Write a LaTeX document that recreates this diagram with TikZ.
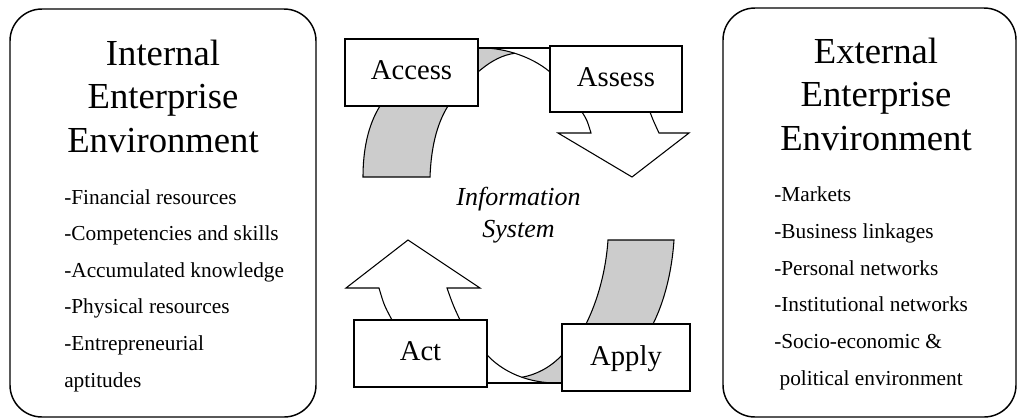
\documentclass[tikz,border=0pt]{standalone}
\usepackage{fontspec}
\setmainfont{Liberation Serif}
\usepackage{tikz}
\definecolor{bandgray}{HTML}{CCCCCC}
\tikzstyle{envbox}=[draw, line width=1.1pt, rounded corners=24pt, fill=white]
\tikzstyle{stepbox}=[draw, line width=1pt, fill=white, text depth=0.35em, font=\fontsize{21.5}{26}\selectfont]
\tikzstyle{heading}=[align=center, anchor=base, inner sep=0pt, font=\fontsize{27.5}{32.6}\selectfont]
\tikzstyle{item}=[anchor=base west, inner sep=0pt, font=\fontsize{16}{20}\selectfont]
\tikzstyle{infotext}=[align=center, anchor=base, inner sep=0pt, font=\fontsize{19.5}{23.8}\selectfont\itshape]
\tikzstyle{band}=[draw, line width=0.8pt, fill=bandgray]
\tikzstyle{blockarrow}=[draw, line width=0.8pt, fill=white]

\begin{document}
\begin{tikzpicture}[x=0.75pt, y=-0.75pt]
  \useasboundingbox (0,0) rectangle (1018,419);
  \begin{scope}
    \node (internal) at (163,213)[envbox, minimum width=229.5pt, minimum height=306pt] {};
    \node (external) at (869.5,212.5)[envbox, minimum width=219.75pt, minimum height=306.75pt] {};
  \end{scope}
  \begin{scope}[line width=0.8pt]
    % tail of the access arrow
    \draw[band] (380,106) .. controls (368,125) and (363,150) .. (363,177)
      -- (430,177) .. controls (431,150) and (436,125) .. (448,106);
    \fill[bandgray] (478,48) .. controls (489,47.5) and (502,49.25) .. (514.75,53.25)
      .. controls (503,55) and (492,60) .. (478,72) -- cycle;
    \draw (478,48) -- (550,48);
    \draw (478,48) .. controls (500,47) and (530,55) .. (550,72);
    \draw (478,72) .. controls (492,60) and (503,55) .. (514.75,53.25);
    \draw[blockarrow] (582,112) .. controls (587,120) .. (591,133) -- (558,133)
      -- (632,177) -- (689,133) -- (659,133) .. controls (653,120) .. (650,112);
    % tail of the apply arrow
    \draw[band] (586,324) .. controls (598,300) and (606,270) .. (608,240)
      -- (674,240) .. controls (672,270) and (665,300) .. (653,324);
    \fill[bandgray] (562,383) .. controls (548.5,383.5) and (534.75,381.75) .. (521.9,377.25)
      .. controls (535,375) and (550,368) .. (562,355) -- cycle;
    \draw (487,383) -- (562,383);
    \draw (562,383) .. controls (535,384) and (507,376) .. (487,355);
    \draw (562,355) .. controls (550,368) and (535,375) .. (521.9,377.25);
    \draw[blockarrow] (392,320) .. controls (384,305) .. (379,288) -- (346,288)
      -- (408,240) -- (480,288) -- (447,288) .. controls (453,305) .. (460,320);
  \end{scope}
  \begin{scope}
    \node (access) at (411.5,72.5)[stepbox, minimum width=99.75pt, minimum height=50.25pt] {Access};
    \node (assess) at (616,79)[stepbox, minimum width=99pt, minimum height=49.5pt] {Assess};
    \node (act) at (420.5,353.5)[stepbox, minimum width=99.75pt, minimum height=50.25pt] {Act};
    \node (apply) at (626,357.5)[stepbox, minimum width=96pt, minimum height=50.25pt] {Apply};
    \node (infosys) at (518.5,237)[infotext] {Information\\System};
  \end{scope}
  \begin{scope}
    \node (inthead) at (163,152)[heading] {Internal\\Enterprise\\Environment};
    \node (exthead) at (876,150)[heading] {External\\Enterprise\\Environment};
    \foreach \t [count=\i] in {-Financial resources, -Competencies and skills,
        -Accumulated knowledge, -Physical resources, -Entrepreneurial, aptitudes}
      \node (int\i) at (64,204+36.6*\i-36.6)[item] {\t};
    \foreach \t [count=\i] in {-Markets, -Business linkages, -Personal networks,
        -Institutional networks, -Socio-economic \&, {\ }political environment}
      \node (ext\i) at (774,201.7+36.7*\i-36.7)[item] {\t};
  \end{scope}
\end{tikzpicture}
\end{document}
